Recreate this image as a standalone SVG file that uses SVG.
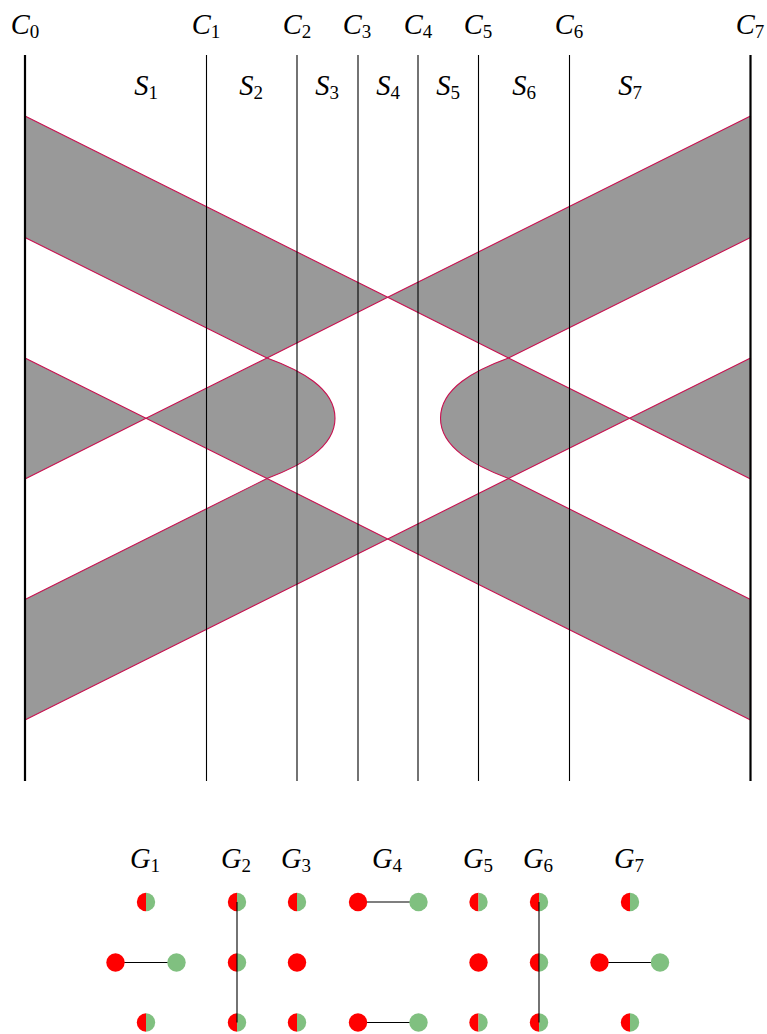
<svg xmlns="http://www.w3.org/2000/svg" width="767" height="1034" viewBox="0 0 767 1034">
<style>
.lab{font-family:"Liberation Serif","Times New Roman",serif;font-style:italic;font-size:28.5px;fill:#000;text-anchor:middle}
.sub{font-style:normal;font-size:19px}
.cut{stroke:#000;stroke-width:1.1;fill:none}
.bold{stroke-width:2.2}
.reg{fill:#999;stroke:#c8104f;stroke-width:1.1;stroke-linejoin:round}
.edge{stroke:#000;stroke-width:1.1;fill:none}
.r{fill:#f00}
.g{fill:#80c080}
</style>
<defs>
<g id="half"><path class="r" d="M0,-9.2A9.2,9.2 0 0 0 0,9.2Z"/><path class="g" d="M0,-9.2A9.2,9.2 0 0 1 0,9.2Z"/></g>
<circle id="red" class="r" r="9.2"/>
<circle id="green" class="g" r="9.2"/>
</defs>
<g id="regions">
<path class="reg" d="M25,116L387.7,297.3L267,358L25,237.5Z"/>
<path class="reg" d="M750.5,116L387.7,297.3L508.5,358L750.5,237.5Z"/>
<path class="reg" d="M25,358L146,418.3L25,479Z"/>
<path class="reg" d="M750.5,358L629.5,418.3L750.5,479Z"/>
<path class="reg" d="M146,418.3L267,358C300,370 335,388 335,418.3C335,448 300,466 267,478.500Z"/>
<path class="reg" d="M629.5,418.3L508.5,358C475.5,370 440.5,388 440.5,418.3C440.5,448 475.5,466 508.5,478.500Z"/>
<path class="reg" d="M25,599.5L267,478.5L387.7,539L25,720Z"/>
<path class="reg" d="M750.5,599.5L508.5,478.5L387.7,539L750.5,720Z"/>
</g>
<g id="connectors">
<path class="cut bold" d="M25,55V781"/>
<path class="cut" d="M206.5,55V781"/>
<path class="cut" d="M297,55V781"/>
<path class="cut" d="M358,55V781"/>
<path class="cut" d="M418,55V781"/>
<path class="cut" d="M478.5,55V781"/>
<path class="cut" d="M569.5,55V781"/>
<path class="cut bold" d="M750.5,55V781"/>
<path class="edge" d="M115.5,962.5H176.5"/>
<path class="edge" d="M358,902H418.500"/>
<path class="edge" d="M358,1022.5H418.500"/>
<path class="edge" d="M599.500,962.5H660"/>
</g>
<g id="cut-labels">
<text class="lab" x="25" y="34">C<tspan class="sub" dy="4">0</tspan></text>
<text class="lab" x="206" y="34">C<tspan class="sub" dy="4">1</tspan></text>
<text class="lab" x="297" y="34">C<tspan class="sub" dy="4">2</tspan></text>
<text class="lab" x="357" y="34">C<tspan class="sub" dy="4">3</tspan></text>
<text class="lab" x="418" y="34">C<tspan class="sub" dy="4">4</tspan></text>
<text class="lab" x="478" y="34">C<tspan class="sub" dy="4">5</tspan></text>
<text class="lab" x="569" y="34">C<tspan class="sub" dy="4">6</tspan></text>
<text class="lab" x="750" y="34">C<tspan class="sub" dy="4">7</tspan></text>
</g>
<g id="strip-labels">
<text class="lab" x="146" y="95">S<tspan class="sub" dy="4">1</tspan></text>
<text class="lab" x="251" y="95">S<tspan class="sub" dy="4">2</tspan></text>
<text class="lab" x="327" y="95">S<tspan class="sub" dy="4">3</tspan></text>
<text class="lab" x="388" y="95">S<tspan class="sub" dy="4">4</tspan></text>
<text class="lab" x="448" y="95">S<tspan class="sub" dy="4">5</tspan></text>
<text class="lab" x="524" y="95">S<tspan class="sub" dy="4">6</tspan></text>
<text class="lab" x="630" y="95">S<tspan class="sub" dy="4">7</tspan></text>
</g>
<g id="G1"><text class="lab" x="145" y="868">G<tspan class="sub" dy="4">1</tspan></text>
<use href="#half" x="146" y="902"/><use href="#red" x="115.500" y="962.5"/><use href="#green" x="176.500" y="962.5"/><use href="#half" x="146" y="1022.5"/></g>
<g id="G2"><text class="lab" x="236" y="868">G<tspan class="sub" dy="4">2</tspan></text>
<use href="#half" x="237" y="902"/><use href="#half" x="237" y="962.5"/><use href="#half" x="237" y="1022.5"/></g>
<g id="G3"><text class="lab" x="296" y="868">G<tspan class="sub" dy="4">3</tspan></text>
<use href="#half" x="297" y="902"/><use href="#red" x="297" y="962.5"/><use href="#half" x="297" y="1022.5"/></g>
<g id="G4"><text class="lab" x="387" y="868">G<tspan class="sub" dy="4">4</tspan></text>
<use href="#red" x="358" y="902"/><use href="#green" x="418.500" y="902"/><use href="#red" x="358" y="1022.5"/><use href="#green" x="418.500" y="1022.5"/></g>
<g id="G5"><text class="lab" x="478" y="868">G<tspan class="sub" dy="4">5</tspan></text>
<use href="#half" x="478.500" y="902"/><use href="#red" x="478.500" y="962.5"/><use href="#half" x="478.500" y="1022.5"/></g>
<g id="G6"><text class="lab" x="538" y="868">G<tspan class="sub" dy="4">6</tspan></text>
<use href="#half" x="539" y="902"/><use href="#half" x="539" y="962.5"/><use href="#half" x="539" y="1022.5"/></g>
<g id="G7"><text class="lab" x="629" y="868">G<tspan class="sub" dy="4">7</tspan></text>
<use href="#half" x="630" y="902"/><use href="#red" x="599.500" y="962.5"/><use href="#green" x="660" y="962.5"/><use href="#half" x="630" y="1022.5"/></g>
<g id="connectors-over">
<path class="edge" d="M237,902V1022.5"/>
<path class="edge" d="M539,902V1022.5"/>
</g>
</svg>
